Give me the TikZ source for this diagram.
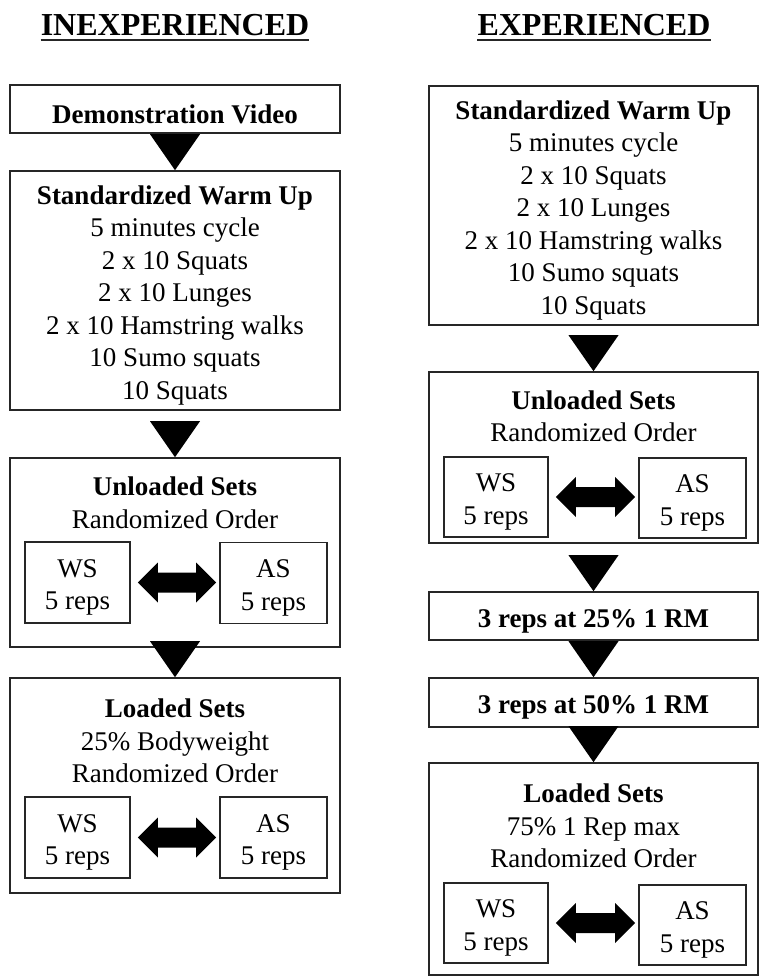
\documentclass[tikz,border=0pt]{standalone}
\usepackage{fontspec}
\setmainfont{Liberation Serif}
\usetikzlibrary{calc}
\newcommand\downtri[1]{\fill[black] ($(#1.north)+(-25,-36)$) -- ($(#1.north)+(25,-36)$) -- (#1.north) -- cycle;}
\newcommand\dbarr[2]{\fill[black] let \p1=($(#1.east)+(7,0)$), \p2=($(#2.west)+(-3,0)$) in
  (\p1) -- (\x1+20pt,\y1+20pt) -- (\x1+20pt,\y1+10pt) -- (\x2-20pt,\y1+10pt) -- (\x2-20pt,\y1+20pt)
  -- (\x2,\y1) -- (\x2-20pt,\y1-20pt) -- (\x2-20pt,\y1-10pt) -- (\x1+20pt,\y1-10pt) -- (\x1+20pt,\y1-20pt) -- cycle;}
% box text, shifted slightly below the geometric centre
\newcommand\boxtext[2]{\node[tx] (#1-txt) at ($(#1)+(0,5)$) {#2};}
\begin{document}
\begin{tikzpicture}[x=1pt,y=-1pt,
  bx/.style={draw=black!85, line width=1.6pt, rectangle, inner sep=0pt},
  tx/.style={inner sep=0pt, align=center, font=\fontsize{27}{32.5}\selectfont},
  ttl/.style={inner sep=0pt, font=\fontsize{32}{38}\selectfont\bfseries, anchor=base},
  ul/.style={line width=2pt, black!85}
]
\fill[white] (0,0) rectangle (759,977);
\useasboundingbox (0,0) rectangle (759,977);

% ---------- Left column ----------
\node[ttl] (t1) at (175,35) {INEXPERIENCED};
\draw[ul] ($(t1.base west)+(0,5)$) -- ($(t1.base east)+(0,5)$);

\node[bx, minimum width=330pt, minimum height=48pt] (demo) at (175,109) {};
\boxtext{demo}{\textbf{Demonstration Video}}
\node[bx, minimum width=330pt, minimum height=239pt] (warmL) at (175,290.5) {};
\boxtext{warmL}{\textbf{Standardized Warm Up}\\5 minutes cycle\\2 x 10 Squats\\2 x 10 Lunges\\2 x 10 Hamstring walks\\10 Sumo squats\\10 Squats}
\node[bx, minimum width=330pt, minimum height=189pt] (unlL) at (175,552.5) {};
\node[tx] (unlLt) at (175,503) {\textbf{Unloaded Sets}\\Randomized Order};
\node[bx, minimum width=105pt, minimum height=81pt] (wsL1) at (77.5,582.5) {};
\boxtext{wsL1}{WS\\5 reps}
\node[bx, minimum width=107pt, minimum height=81pt] (asL1) at (273.5,583) {};
\boxtext{asL1}{AS\\5 reps}
\node[bx, minimum width=330pt, minimum height=215pt] (loadL) at (175,785.5) {};
\node[tx] (loadLt) at (175,741) {\textbf{Loaded Sets}\\25\% Bodyweight\\Randomized Order};
\node[bx, minimum width=105pt, minimum height=81pt] (wsL2) at (77.5,837.5) {};
\boxtext{wsL2}{WS\\5 reps}
\node[bx, minimum width=107pt, minimum height=81pt] (asL2) at (273.5,837.5) {};
\boxtext{asL2}{AS\\5 reps}

\downtri{warmL}
\downtri{unlL}
\downtri{loadL}
\dbarr{wsL1}{asL1}
\dbarr{wsL2}{asL2}

% ---------- Right column ----------
\node[ttl] (t2) at (594,35) {EXPERIENCED};
\draw[ul] ($(t2.base west)+(0,5)$) -- ($(t2.base east)+(0,5)$);

\node[bx, minimum width=329pt, minimum height=239pt] (warmR) at (593.5,205.5) {};
\boxtext{warmR}{\textbf{Standardized Warm Up}\\5 minutes cycle\\2 x 10 Squats\\2 x 10 Lunges\\2 x 10 Hamstring walks\\10 Sumo squats\\10 Squats}
\node[bx, minimum width=329pt, minimum height=171pt] (unlR) at (593.5,457.5) {};
\node[tx] (unlRt) at (593.5,416.5) {\textbf{Unloaded Sets}\\Randomized Order};
\node[bx, minimum width=104pt, minimum height=80pt] (wsR1) at (496,497) {};
\boxtext{wsR1}{WS\\5 reps}
\node[bx, minimum width=107pt, minimum height=80pt] (asR1) at (692.5,498) {};
\boxtext{asR1}{AS\\5 reps}
\node[bx, minimum width=329pt, minimum height=48pt] (r25) at (593.5,616) {};
\boxtext{r25}{\textbf{3 reps at 25\% 1 RM}}
\node[bx, minimum width=329pt, minimum height=49pt] (r50) at (593.5,702.5) {};
\boxtext{r50}{\textbf{3 reps at 50\% 1 RM}}
\node[bx, minimum width=329pt, minimum height=212pt] (loadR) at (593.5,869) {};
\node[tx] (loadRt) at (593.5,826) {\textbf{Loaded Sets}\\75\% 1 Rep max\\Randomized Order};
\node[bx, minimum width=104pt, minimum height=80pt] (wsR2) at (496,923) {};
\boxtext{wsR2}{WS\\5 reps}
\node[bx, minimum width=107pt, minimum height=80pt] (asR2) at (692.5,925) {};
\boxtext{asR2}{AS\\5 reps}

\downtri{unlR}
\downtri{r25}
\downtri{r50}
\downtri{loadR}
\dbarr{wsR1}{asR1}
\dbarr{wsR2}{asR2}
\end{tikzpicture}
\end{document}
